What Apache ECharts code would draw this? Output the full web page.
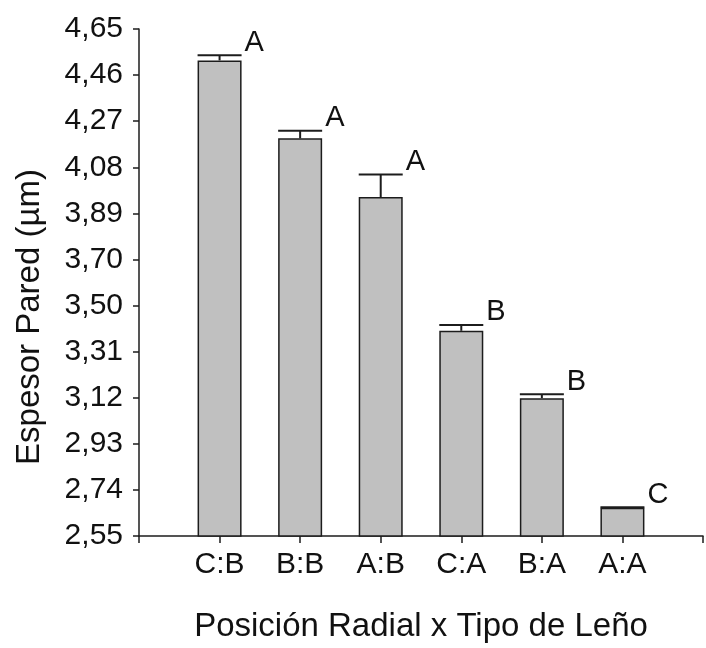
<!DOCTYPE html>
<html>
<head>
<meta charset="utf-8">
<script src="https://cdn.jsdelivr.net/npm/echarts@6/dist/echarts.min.js"></script>
<style>
html,body{margin:0;padding:0;background:#fff;}
#chart{width:706px;height:648px;}
</style>
</head>
<body>
<div id="chart"></div>
<script>
// ---- data ----
const categories = ['C:B', 'B:B', 'A:B', 'C:A', 'B:A', 'A:A'];
const means = [4.52, 4.197, 3.954, 3.400, 3.121, 2.667];
const errors = [0.021, 0.032, 0.093, 0.024, 0.016, 0.002];
const letters = ['A', 'A', 'A', 'B', 'B', 'C'];
const yTickLabels = ['2,55', '2,74', '2,93', '3,12', '3,31', '3,50', '3,70', '3,89', '4,08', '4,27', '4,46', '4,65'];
const yMin = 2.55, yMax = 4.65;
const xTitle = 'Posición Radial x Tipo de Leño';
const yTitle = 'Espesor Pared (µm)';

// ---- derived ----
const FONT = '"Liberation Sans", Arial, sans-serif';
const step = (yMax - yMin) / (yTickLabels.length - 1);
const yTickValues = yTickLabels.map((_, i) => yMin + i * step);
const axisCats = [''].concat(categories, ['']);
const barData = ['-'].concat(means, ['-']);
const errData = categories.map((c, i) => [i + 1, means[i], errors[i]]);
const BAR_W = 44;
const INK = '#1c1c1c';

const chart = echarts.init(document.getElementById('chart'), null, {renderer: 'canvas'});
chart.setOption({
  animation: false,
  backgroundColor: '#fff',
  grid: {left: 139, top: 29, bottom: 100, right: -5, containLabel: false},
  xAxis: {
    type: 'category',
    data: axisCats,
    boundaryGap: false,
    axisLine: {show: true, lineStyle: {color: INK, width: 1.5}},
    axisTick: {show: true, alignWithLabel: true, length: 7, interval: 0, lineStyle: {color: INK, width: 1.5}},
    axisLabel: {show: true, interval: 0, margin: 14, color: '#111', fontFamily: FONT, fontSize: 30},
    splitLine: {show: false},
    name: xTitle,
    nameLocation: 'middle',
    nameGap: 74,
    nameTextStyle: {color: '#111', fontFamily: FONT, fontSize: 33}
  },
  yAxis: {
    type: 'value',
    min: yMin,
    max: yMax,
    axisLine: {show: true, lineStyle: {color: INK, width: 1.5}},
    axisTick: {show: true, length: 6, customValues: yTickValues, lineStyle: {color: INK, width: 1.5}},
    axisLabel: {
      show: true, margin: 16, color: '#111', fontFamily: FONT, fontSize: 30,
      customValues: yTickValues,
      showMinLabel: true, showMaxLabel: true,
      formatter: function (v) { return yTickLabels[Math.round((v - yMin) / step)]; }
    },
    splitLine: {show: false}
  },
  graphic: [{
    type: 'text',
    x: 30, y: 317,
    rotation: Math.PI / 2,
    style: {text: yTitle, font: '33px ' + FONT, fill: '#111', align: 'center', verticalAlign: 'middle'}
  }],
  series: [{
    type: 'bar',
    data: barData,
    barWidth: BAR_W,
    itemStyle: {color: '#c0c0c0', borderColor: INK, borderWidth: 1.5},
    z: 2
  }, {
    type: 'custom',
    data: errData,
    clip: false,
    z: 3,
    renderItem: function (params, api) {
      const idx = api.value(0), v = api.value(1), e = api.value(2);
      const base = api.coord([idx, v]);
      const top = api.coord([idx, v + e]);
      const half = BAR_W / 2;
      return {
        type: 'group',
        children: [
          {type: 'line', shape: {x1: base[0], y1: base[1], x2: top[0], y2: top[1]}, style: {stroke: INK, lineWidth: 2}},
          {type: 'line', shape: {x1: top[0] - half, y1: top[1], x2: top[0] + half, y2: top[1]}, style: {stroke: INK, lineWidth: 2}},
          {type: 'text', x: top[0] + half + 3, y: top[1] + 2,
           style: {text: letters[params.dataIndex], font: '29px ' + FONT, fill: '#111', align: 'left', verticalAlign: 'bottom'}}
        ]
      };
    }
  }]
});
</script>
</body>
</html>
